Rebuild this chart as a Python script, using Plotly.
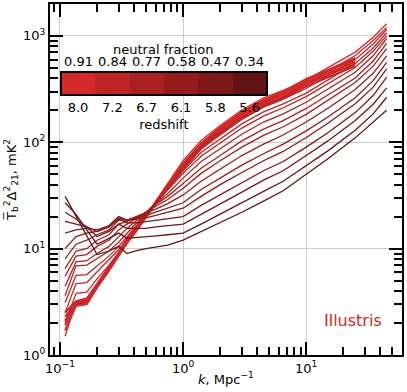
import plotly.graph_objects as go

# ---- data ----
k = [0.11, 0.135, 0.165, 0.2, 0.25, 0.3, 0.35, 0.42, 0.5, 0.6, 0.75, 1.0,
     1.4, 2.0, 3.0, 4.5, 6.5, 10, 15, 25, 35, 45]

# thin curves, bright (z=8) -> dark (z=5.6), full k range
thin_power = [
    [1.5, 3.2, 3.3, 4.6, 6.5, 8.8, 11.5, 15, 20, 28, 41, 67, 104, 144, 201, 261, 308, 382, 503, 704, 972, 1300],
    [2.0, 3.8, 3.9, 5.2, 7.0, 9.2, 12, 15.5, 20.5, 28, 39, 63, 96, 132, 184, 239, 282, 352, 465, 655, 905, 1200],
    [2.5, 4.7, 4.8, 6.0, 7.8, 9.8, 12.5, 16, 21, 27.5, 38, 58, 87, 118, 165, 214, 254, 320, 425, 600, 840, 1150],
    [3.1, 5.6, 5.7, 6.8, 8.5, 10.5, 13, 16.5, 21, 27, 36, 54, 80, 107, 149, 193, 230, 290, 386, 550, 770, 1070],
    [3.6, 6.9, 7.0, 8.0, 9.5, 11.5, 14, 17.5, 21.5, 27, 35, 51, 74, 99, 136, 176, 211, 269, 358, 505, 720, 1000],
    [4.4, 7.5, 7.7, 9.0, 10.5, 13, 15.5, 18.5, 22, 26.5, 33, 46, 66, 87, 119, 155, 185, 238, 317, 455, 650, 945],
    [5.5, 8.5, 8.8, 10.5, 12, 15, 17, 19.5, 22, 26, 31, 41, 57, 75, 103, 133, 160, 208, 278, 402, 580, 850],
    [6.5, 9.5, 10, 12, 13.5, 17, 18, 20, 22, 25, 29, 37, 51, 67, 90, 116, 140, 183, 246, 364, 520, 760],
    [8.0, 11, 12, 13.5, 15, 18.5, 18.5, 20, 21.5, 23.5, 26.5, 32, 43, 56, 75, 96, 117, 155, 209, 314, 445, 650],
    [10, 13, 14, 14.5, 16, 19.5, 18.5, 19.5, 20.5, 22, 24, 27, 36, 46, 61, 78, 96, 128, 173, 262, 380, 565],
    [14, 15, 15.5, 15, 16.5, 20, 18.5, 19, 19.5, 20.5, 22, 24, 31, 40, 52, 67, 82, 111, 151, 230, 330, 490],
    [18, 17, 16, 14.5, 16, 19, 17.5, 17.5, 18, 18.5, 19, 20, 25.5, 32, 42, 54, 66, 90, 123, 190, 275, 410],
    [22, 19, 16, 13, 14.5, 17, 15.5, 15.5, 15.5, 16, 16.5, 17, 21, 26.5, 34, 44, 54, 75, 103, 160, 228, 325],
    [27, 21, 15, 11, 12.5, 14, 12.5, 12.8, 13, 13.2, 13.5, 14, 17, 21, 27, 34.5, 43, 60, 83, 130, 185, 265],
    [31, 20, 13, 8.8, 9.5, 10.5, 9.0, 9.6, 10, 10.3, 10.8, 12, 14.4, 17.4, 22, 28, 35, 50, 70, 110, 156, 200],
]

# thick curves stop at k = 25
thick_power = [
    [1.7, 2.9, 3.0, 4.3, 6.2, 8.6, 11.3, 14.8, 19.8, 27.5, 40, 63, 98, 138, 193, 250, 300, 395, 480, 620],
    [1.9, 3.0, 3.1, 4.4, 6.3, 8.7, 11.4, 14.9, 20, 27.5, 40, 62, 96, 134, 187, 243, 290, 380, 465, 600],
    [2.1, 3.1, 3.2, 4.5, 6.4, 8.8, 11.5, 15, 20, 27, 39, 60, 93, 130, 180, 233, 280, 365, 445, 570],
    [2.3, 3.0, 3.3, 4.6, 6.6, 9.0, 11.7, 15.2, 20, 27, 38.5, 58, 90, 125, 172, 224, 268, 350, 425, 545],
    [2.5, 3.2, 3.4, 4.7, 6.7, 9.1, 11.8, 15.3, 20, 26.5, 37.5, 56, 87, 120, 166, 216, 258, 335, 410, 520],
]

neutral_fraction = ["0.91", "0.84", "0.77", "0.58", "0.47", "0.34"]
redshift = ["8.0", "7.2", "6.7", "6.1", "5.8", "5.6"]
bar_colors = ["#d6292a", "#c12425", "#ab2021", "#951b1d", "#7e1718", "#601414"]

x_major = [0.1, 1, 10]
x_major_text = ["10<sup>−1</sup>", "10<sup>0</sup>", "10<sup>1</sup>"]
y_major = [1, 10, 100, 1000]
y_major_text = ["10<sup>0</sup>", "10<sup>1</sup>", "10<sup>2</sup>", "10<sup>3</sup>"]
x_minor = [0.09] + [m * 10 ** e for e in (-1, 0, 1) for m in range(2, 10) if m * 10 ** e < 60]
y_minor = [m * 10 ** e for e in (0, 1, 2, 3) for m in range(2, 10) if m * 10 ** e < 2000]


def mix(f):
    # colour along the colorbar, f in [0, 1]
    pos = f * (len(bar_colors) - 1)
    i = min(int(pos), len(bar_colors) - 2)
    t = pos - i
    a = [int(bar_colors[i][j:j + 2], 16) for j in (1, 3, 5)]
    b = [int(bar_colors[i + 1][j:j + 2], 16) for j in (1, 3, 5)]
    return "rgb(%d,%d,%d)" % tuple(round(a[n] + (b[n] - a[n]) * t) for n in range(3))


FONT = "DejaVu Sans"
XR = [-1.081, 1.778]
YR = [0, 3.3]
# colorbar box inside the plot area (paper fractions / pixels)
BAR_L, BAR_W = 0.031, 0.585
BAR_TOP = 0.806
BAR_LEN_PX, BAR_THICK_PX = 206, 23
n_seg = len(bar_colors)

fig = go.Figure()

for i, p in enumerate(thick_power):
    fig.add_trace(go.Scatter(x=k[:len(p)], y=p, mode="lines",
                             line=dict(color=mix(0.05 * i), width=2.0), showlegend=False))
for i, p in enumerate(thin_power):
    fig.add_trace(go.Scatter(x=k, y=p, mode="lines",
                             line=dict(color=mix(i / (len(thin_power) - 1)), width=1.3), showlegend=False))

# invisible point so the minor-tick axes get drawn
fig.add_trace(go.Scatter(x=[1], y=[10], xaxis="x4", yaxis="y4", mode="markers",
                         marker=dict(opacity=0), hoverinfo="skip", showlegend=False))

# discrete colour scale -> horizontal colorbar carrying the redshift labels
steps = []
for i, c in enumerate(bar_colors):
    steps += [[i / n_seg, c], [(i + 1) / n_seg, c]]
fig.add_trace(go.Scatter(x=[1] * n_seg, y=[10] * n_seg, mode="markers", hoverinfo="skip",
                         showlegend=False,
                         marker=dict(color=list(range(n_seg)), coloraxis="coloraxis", opacity=0)))

major = dict(showline=True, linewidth=2, linecolor="black", mirror="allticks",
             ticks="inside", ticklen=13, tickwidth=2, tickcolor="black",
             showgrid=True, gridcolor="#cccccc", gridwidth=1, zeroline=False,
             automargin=False, tickfont=dict(size=13, color="black", family=FONT))
minor = dict(showline=True, linewidth=2, linecolor="black", mirror="allticks",
             ticks="inside", ticklen=8, tickwidth=1.5, tickcolor="black",
             showgrid=False, zeroline=False, showticklabels=False, automargin=False)

# neutral-fraction labels above the colorbar, one per segment
notes = [dict(text=t, xref="paper", yref="paper",
              x=BAR_L + (i + 0.5) * BAR_W / n_seg, y=0.835,
              xanchor="center", yanchor="middle", showarrow=False, font=dict(size=13))
         for i, t in enumerate(neutral_fraction)]
notes.append(dict(text="neutral fraction", xref="paper", yref="paper", x=BAR_L + BAR_W / 2,
                  y=0.869, xanchor="center", yanchor="middle", showarrow=False,
                  font=dict(size=13)))
notes.append(dict(text="Illustris", xref="paper", yref="paper", x=0.949, y=0.097,
                  xanchor="right", yanchor="middle", showarrow=False,
                  font=dict(size=16, color="#d62728", family=FONT)))

fig.update_layout(
    width=407, height=392,
    margin=dict(l=50, r=5, t=4, b=37),
    paper_bgcolor="white", plot_bgcolor="white",
    font=dict(family=FONT, size=13, color="black"),
    coloraxis=dict(colorscale=steps, cmin=-0.5, cmax=n_seg - 0.5,
                   colorbar=dict(orientation="h", x=BAR_L + BAR_W / 2, xanchor="center",
                                 y=BAR_TOP, yanchor="top", xpad=0, ypad=0,
                                 lenmode="pixels", len=BAR_LEN_PX,
                                 thicknessmode="pixels", thickness=BAR_THICK_PX,
                                 outlinewidth=2, outlinecolor="black", ticks="",
                                 tickvals=list(range(n_seg)), ticktext=redshift,
                                 tickfont=dict(size=13, color="black"),
                                 title=dict(text="redshift", side="bottom",
                                            font=dict(size=13, color="black")))),
    xaxis=dict(type="log", range=XR, tickvals=x_major, ticktext=x_major_text,
               title=dict(text="<i>k</i>, Mpc<sup>−1</sup>", standoff=0, font=dict(size=13)),
               **major),
    yaxis=dict(type="log", range=YR, tickvals=y_major, ticktext=y_major_text,
               title=dict(text="T\u0305<sub>b</sub><sup>2</sup>Δ<sup>2</sup><sub>21</sub>, mK<sup>2</sup>",
                          standoff=4, font=dict(size=13)),
               **major),
    xaxis4=dict(type="log", range=XR, overlaying="x", anchor="y4", tickvals=x_minor, **minor),
    yaxis4=dict(type="log", range=YR, overlaying="y", anchor="x4", tickvals=y_minor, **minor),
    annotations=notes,
)

# the page body has a default 8px margin; drop it so the figure sits at the corner
fig.write_html("out.html", config={"displayModeBar": False},
               post_script="document.body.style.margin='0';")
